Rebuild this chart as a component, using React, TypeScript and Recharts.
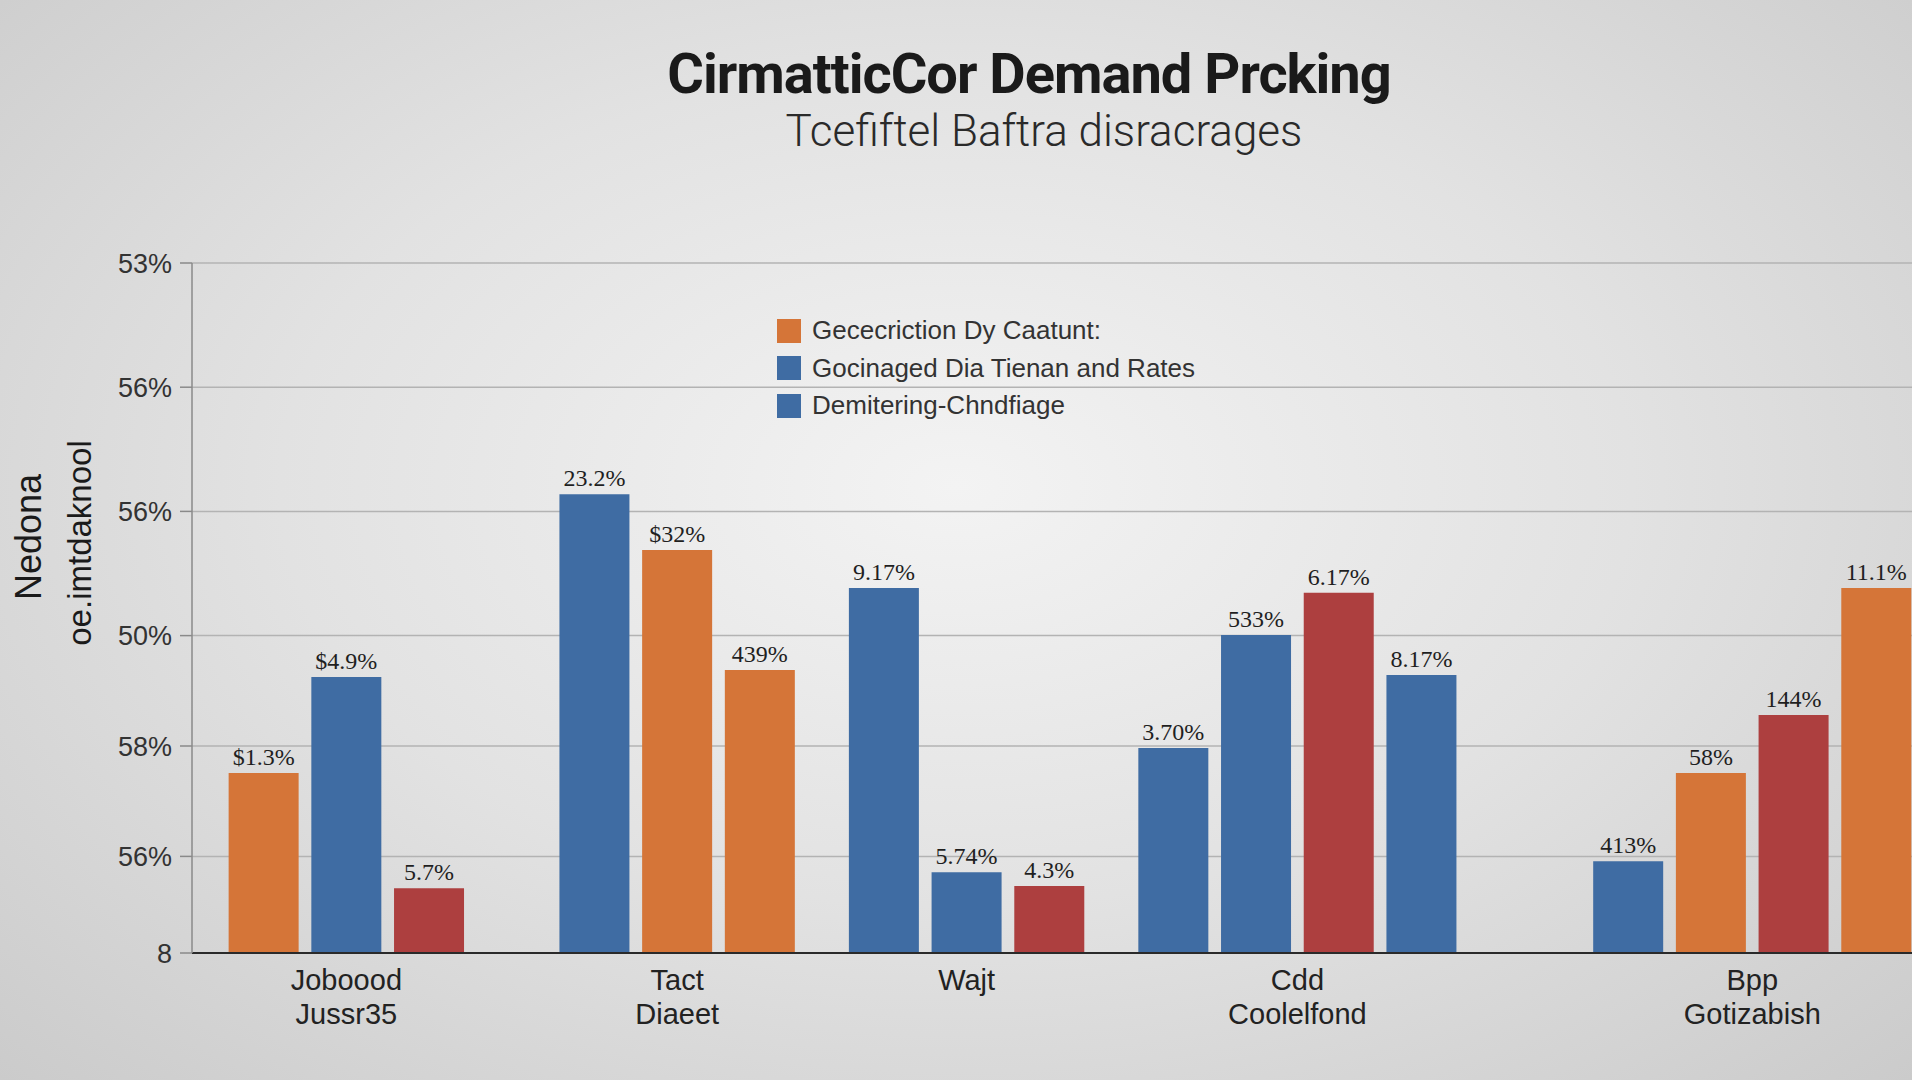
import { BarChart, Bar, XAxis, YAxis, CartesianGrid, Legend, LabelList, Rectangle } from "recharts"

// Categories (one per group of bars), two-line tick labels
const groupNames = [
  ["Joboood", "Jussr35"],
  ["Tact", "Diaeet"],
  ["Wajt"],
  ["Cdd", "Coolelfond"],
  ["Bpp", "Gotizabish"],
]

// Bar heights per group, in axis units (0 = baseline, 100 = top gridline)
const groupValues = [
  [26.1, 40.0, 9.4],
  [66.5, 58.4, 41.0],
  [52.9, 11.7, 9.7],
  [29.7, 46.1, 52.2, 40.3],
  [13.3, 26.1, 34.5, 52.9],
]

// Which series each bar belongs to
const groupSeries = [
  ["orange", "blue", "red"],
  ["blue", "orange", "orange"],
  ["blue", "blue", "red"],
  ["blue", "blue", "red", "blue"],
  ["blue", "orange", "red", "orange"],
]

// Text printed above each bar
const valueLabels = [
  ["$1.3%", "$4.9%", "5.7%"],
  ["23.2%", "$32%", "439%"],
  ["9.17%", "5.74%", "4.3%"],
  ["3.70%", "533%", "6.17%", "8.17%"],
  ["413%", "58%", "144%", "11.1%"],
]

const legendNames = ["Gececriction Dy Caatunt:", "Gocinaged Dia Tienan and Rates", "Demitering-Chndfiage"]
const legendSeries = ["orange", "blue", "blue"]

const yTicks = [0, 14, 30, 46, 64, 82, 100]
const yTickLabels = ["8", "56%", "58%", "50%", "56%", "56%", "53%"]

const COLORS: Record<string, string> = {
  orange: "#d57538",
  blue: "#3f6ca3",
  red: "#ad3f3f",
}

const SANS = '"Liberation Sans", Arial, sans-serif'
const SERIF = '"Liberation Serif", "Times New Roman", serif'
const BAR_W = 70
// empty half-slots between groups
const GAP_SLOTS = [3, 2, 2, 4]

type Slot = { name: string; value: number | null; label: string | null; kind: string | null }

const slots: Slot[] = []
groupValues.forEach((vals, g) => {
  if (g > 0) {
    for (let i = 0; i < GAP_SLOTS[g - 1]; i++) slots.push({ name: "", value: null, label: null, kind: null })
  }
  const n = vals.length * 2 - 1
  for (let i = 0; i < n; i++) {
    const isBar = i % 2 === 0
    const b = i / 2
    slots.push({
      name: i === Math.floor(n / 2) ? groupNames[g].join("\n") : "",
      value: isBar ? vals[b] : null,
      label: isBar ? valueLabels[g][b] : null,
      kind: isBar ? groupSeries[g][b] : null,
    })
  }
})

const WideBar = (props: any) => {
  const { x, width, payload } = props
  if (!payload || payload.value == null) return null
  return (
    <Rectangle
      {...props}
      x={x + width / 2 - BAR_W / 2}
      width={BAR_W}
      fill={COLORS[payload.kind]}
    />
  )
}

const GroupTick = ({ x, y, payload }: any) => {
  if (!payload || !payload.value) return null
  const lines = String(payload.value).split("\n")
  return (
    <text x={x} y={y} textAnchor="middle" fill="#222" fontSize={29} fontFamily={SANS}>
      {lines.map((l, i) => (
        <tspan key={i} x={x} dy={i === 0 ? 37 : 34}>
          {l}
        </tspan>
      ))}
    </text>
  )
}

const renderLegend = () => (
  <div style={{ fontFamily: SANS, fontSize: 26, color: "#333" }}>
    {legendNames.map((name, i) => (
      <div key={i} style={{ display: "flex", alignItems: "center", height: 37.5 }}>
        <span style={{ width: 24, height: 24, background: COLORS[legendSeries[i]], marginRight: 11, display: "inline-block" }} />
        <span style={{ whiteSpace: "nowrap" }}>{name}</span>
      </div>
    ))}
  </div>
)

export default function App() {
  return (
    <div
      style={{
        position: "absolute",
        left: 0,
        top: 0,
        width: 1912,
        height: 1080,
        overflow: "hidden",
        background: "radial-gradient(ellipse at 50% 45%, #f3f3f3 0%, #e2e2e2 50%, #cbcbcb 100%)",
      }}
    >
      <div
        style={{
          position: "absolute",
          left: 1029,
          top: 46,
          transform: "translateX(-50%)",
          whiteSpace: "nowrap",
          fontFamily: "Roboto, sans-serif",
          fontWeight: 700,
          fontSize: 56,
          lineHeight: 1,
          letterSpacing: -1,
          color: "#1a1a1a",
        }}
      >
        CirmatticCor Demand Prcking
      </div>
      <div
        style={{
          position: "absolute",
          left: 1044,
          top: 109,
          transform: "translateX(-50%)",
          whiteSpace: "nowrap",
          fontFamily: "Roboto, sans-serif",
          fontWeight: 300,
          fontSize: 44,
          lineHeight: 1,
          letterSpacing: 0,
          color: "#2a2a2a",
        }}
      >
        Tcefiftel Baftra disracrages
      </div>
      <div
        style={{
          position: "absolute",
          left: 29,
          top: 537,
          transform: "translate(-50%, -50%) rotate(-90deg)",
          whiteSpace: "nowrap",
          fontFamily: SANS,
          fontSize: 36,
          color: "#1a1a1a",
          zIndex: 2,
        }}
      >
        Nedona
      </div>
      <div
        style={{
          position: "absolute",
          left: 80,
          top: 543,
          transform: "translate(-50%, -50%) rotate(-90deg)",
          whiteSpace: "nowrap",
          fontFamily: SANS,
          fontSize: 33,
          color: "#1a1a1a",
          zIndex: 2,
        }}
      >
        oe.imtdaknool
      </div>
      <BarChart width={1912} height={1080} data={slots} margin={{ top: 263, right: 0, bottom: 27, left: 0 }}>
        <CartesianGrid vertical={false} stroke="#b3b3b3" strokeWidth={1.5} />
        <XAxis
          dataKey="name"
          interval={0}
          tickLine={false}
          tickSize={0}
          tickMargin={0}
          axisLine={{ stroke: "#2a2a2a", strokeWidth: 2 }}
          height={100}
          padding={{ left: 51, right: 15 }}
          tick={<GroupTick />}
        />
        <YAxis
          type="number"
          domain={[0, 100]}
          ticks={yTicks}
          interval={0}
          width={192}
          tickSize={12}
          tickMargin={8}
          axisLine={{ stroke: "#8a8a8a", strokeWidth: 1.5 }}
          tickLine={{ stroke: "#8a8a8a", strokeWidth: 1.5 }}
          tick={{ fill: "#333", fontSize: 27, fontFamily: SANS }}
          tickFormatter={(v: number) => yTickLabels[yTicks.indexOf(v)] ?? ""}
        />
        <Legend
          layout="vertical"
          align="center"
          verticalAlign="middle"
          wrapperStyle={{ left: 777, top: 312, width: "auto" }}
          content={renderLegend}
        />
        <Bar dataKey="value" isAnimationActive={false} shape={<WideBar />}>
          <LabelList
            dataKey="label"
            position="top"
            offset={8}
            fill="#1f1f1f"
            fontSize={24}
            fontFamily={SERIF}
          />
        </Bar>
      </BarChart>
    </div>
  )
}
